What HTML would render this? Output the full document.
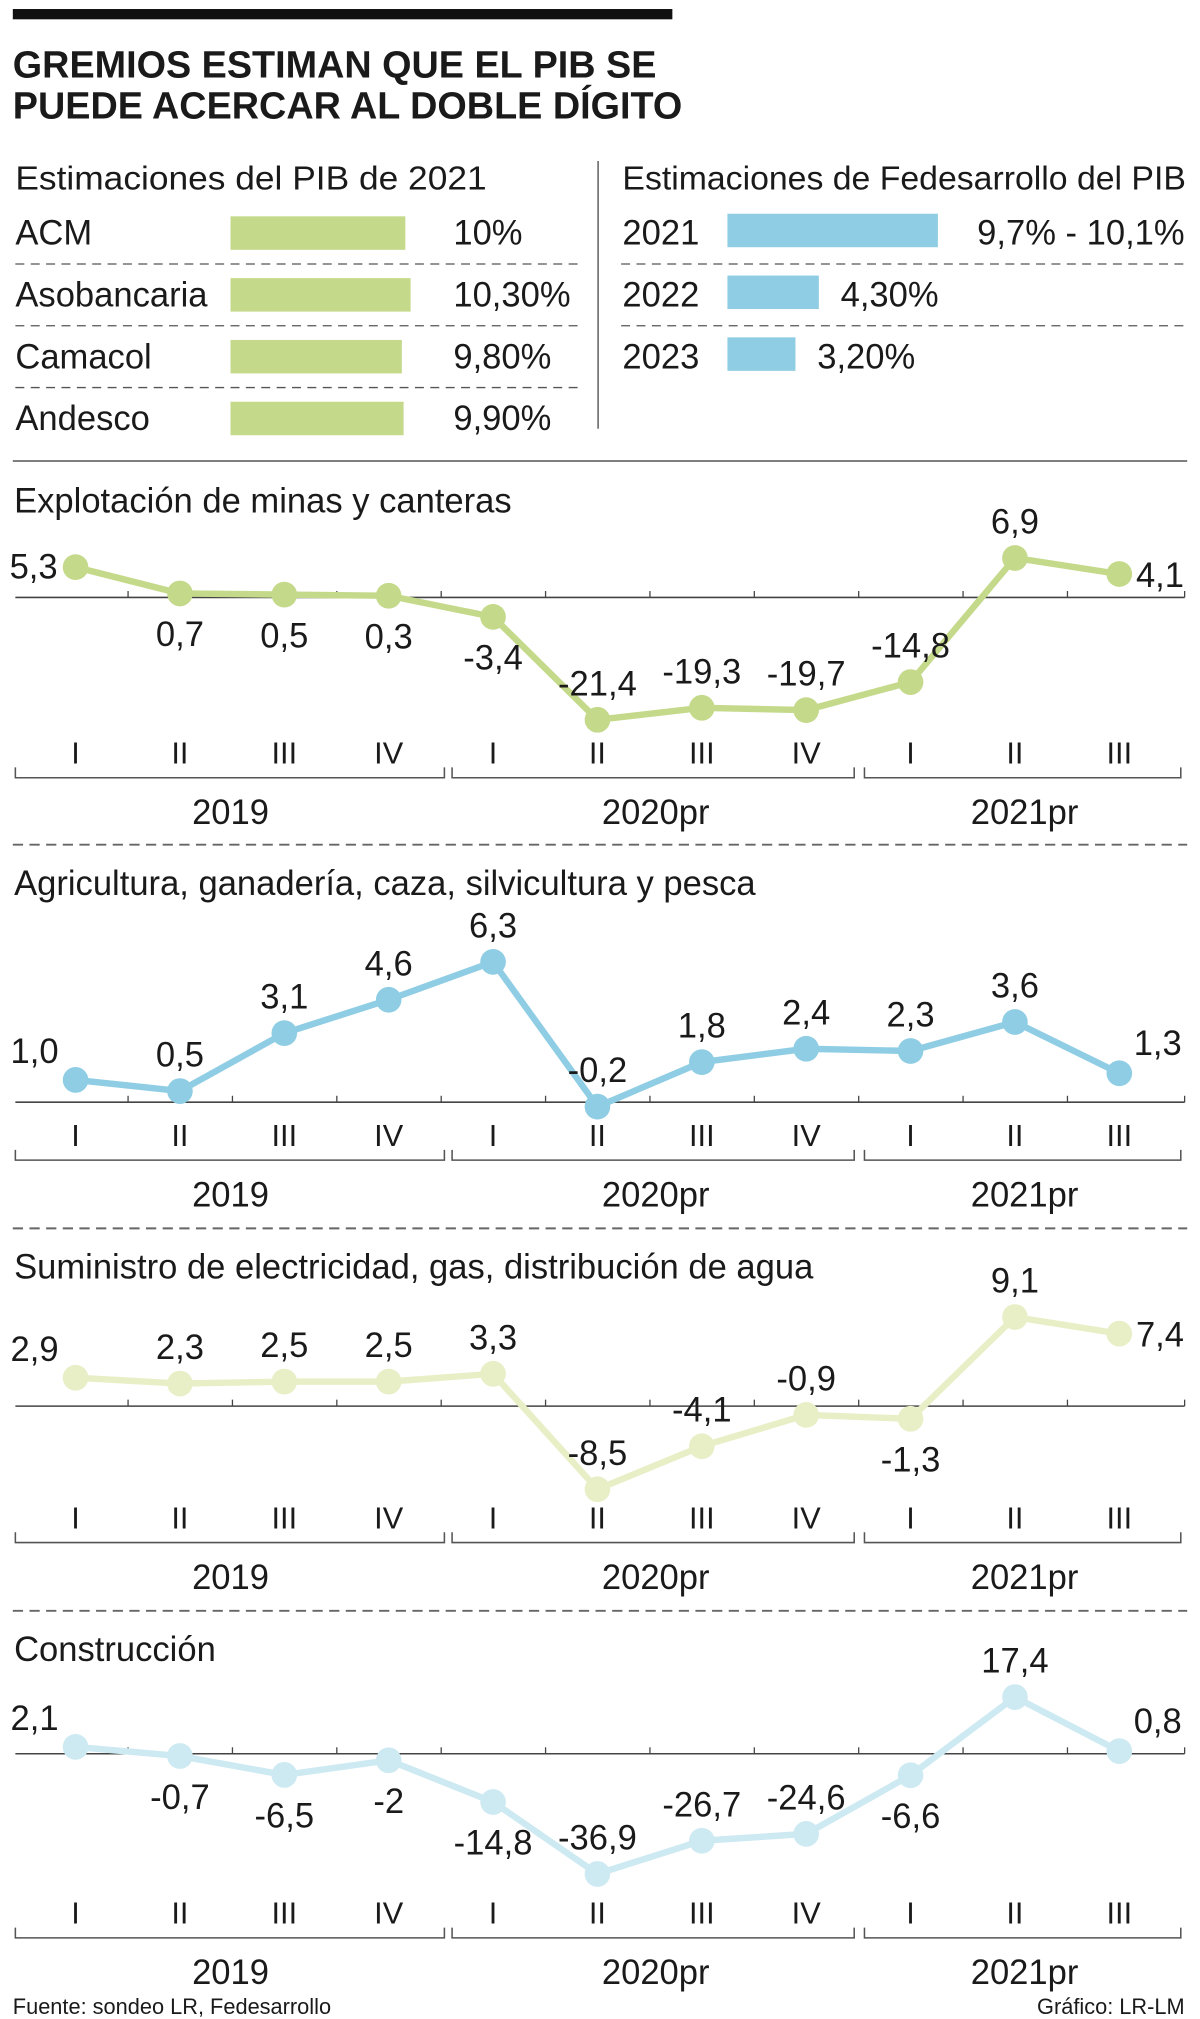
<!DOCTYPE html>
<html><head><meta charset="utf-8">
<style>
html,body{margin:0;padding:0;background:#fff}
svg{display:block}
text{font-family:"Liberation Sans Narrow","Liberation Sans",sans-serif;fill:#1a1a1a}
</style></head>
<body>
<svg id="g" width="1200" height="2019" viewBox="0 0 937 1568" preserveAspectRatio="none" xmlns="http://www.w3.org/2000/svg">
<rect x="10" y="7" width="515" height="8" fill="#111"/>
<text x="10" y="60" font-size="29.5" font-weight="bold">GREMIOS ESTIMAN QUE EL PIB SE</text>
<text x="10" y="92" font-size="29.5" font-weight="bold">PUEDE ACERCAR AL DOBLE DÍGITO</text>
<text x="12" y="147" font-size="26" textLength="368" lengthAdjust="spacingAndGlyphs">Estimaciones del PIB de 2021</text>
<text x="486" y="147" font-size="26" textLength="440" lengthAdjust="spacingAndGlyphs">Estimaciones de Fedesarrollo del PIB</text>
<line x1="467" y1="125" x2="467" y2="333" stroke="#444" stroke-width="1"/>
<line x1="10" y1="358" x2="927" y2="358" stroke="#555" stroke-width="1.2"/>
<g id="tables"></g>
<g id="charts"></g>
<text x="10" y="1564" font-size="17" fill="#333">Fuente: sondeo LR, Fedesarrollo</text>
<text x="925" y="1564" font-size="17" text-anchor="end">Gráfico: LR-LM</text>
</svg>
<script>
const NS="http://www.w3.org/2000/svg";
// ---- Table data
const leftNames=["ACM","Asobancaria","Camacol","Andesco"];
const leftValues=[10,10.3,9.8,9.9];
const leftLabels=["10%","10,30%","9,80%","9,90%"];
const rightYears=["2021","2022","2023"];
const rightValues=[9.9,4.3,3.2];
const rightLabels=["9,7% - 10,1%","4,30%","3,20%"];
// ---- Chart data
const quarters=["I","II","III","IV","I","II","III","IV","I","II","III"];
const yearLabels=["2019","2020pr","2021pr"];
const chartTitles=["Explotación de minas y canteras","Agricultura, ganadería, caza, silvicultura y pesca","Suministro de electricidad, gas, distribución de agua","Construcción"];
const miningValues=[5.3,0.7,0.5,0.3,-3.4,-21.4,-19.3,-19.7,-14.8,6.9,4.1];
const agriValues=[1.0,0.5,3.1,4.6,6.3,-0.2,1.8,2.4,2.3,3.6,1.3];
const electricValues=[2.9,2.3,2.5,2.5,3.3,-8.5,-4.1,-0.9,-1.3,9.1,7.4];
const constructionValues=[2.1,-0.7,-6.5,-2,-14.8,-36.9,-26.7,-24.6,-6.6,17.4,0.8];
const miningLabelPos=["L","B","B","B","B","A","A","A","A","A","R"];
const agriLabelPos=["AL","A","A","A","A","A","A","A","A","A","AR"];
const electricLabelPos=["AL","A","A","A","A","A","A","A","B","A","R"];
const constructionLabelPos=["AL","B","B","B","B","A","A","A","B","A","AR"];

function el(tag,attrs,parent,txt){const e=document.createElementNS(NS,tag);for(const k in attrs)e.setAttribute(k,attrs[k]);if(txt!==undefined)e.textContent=txt;parent.appendChild(e);return e;}

const T=document.getElementById("tables");
const lx=v=>v*13.65, rx=v=>v*16.6;
leftNames.forEach((n,i)=>{
  const y=190+i*48;
  let t=el("text",{x:12,y:y,"font-size":27},T,n);
  
  
  let r=el("rect",{x:180,y:y-22,width:lx(leftValues[i]),height:26,fill:"#c4d98a"},T);
  
  
  let v=el("text",{x:354,y:y,"font-size":27},T,leftLabels[i]);
  
  
  if(i<3){let d=el("line",{x1:12,x2:455,y1:y+15,y2:y+15,stroke:"#555","stroke-dasharray":"7 5"},T);
  
  }
});
rightYears.forEach((n,i)=>{
  const y=190+i*48;
  let t=el("text",{x:486,y:y,"font-size":27},T,n);
  
  
  const w=rx(rightValues[i]);
  let r=el("rect",{x:568,y:y-24,width:w,height:26,fill:"#8ecde4"},T);
  
  
  let v=el("text",{x:i==0?763:568+w+17,y:y,"font-size":27},T,rightLabels[i]);
  if(i==0){v.setAttribute("textLength","162");v.setAttribute("lengthAdjust","spacingAndGlyphs");}
  
  
  if(i<2){let d=el("line",{x1:485,x2:925,y1:y+15,y2:y+15,stroke:"#555","stroke-dasharray":"7 5"},T);
  
  }
});

const C=document.getElementById("charts");
const configs=[
 {vals:miningValues,pos:miningLabelPos,color:"#c4d98a",top:362,zero:464,scale:4.44,roman:593,dec:1},
 {vals:agriValues,pos:agriLabelPos,color:"#8ecde4",top:659,zero:856,scale:17.3,roman:890,dec:1},
 {vals:electricValues,pos:electricLabelPos,color:"#e8efc6",top:957,zero:1092,scale:7.6,roman:1187,dec:1},
 {vals:constructionValues,pos:constructionLabelPos,color:"#cde9f2",top:1254,zero:1362,scale:2.53,roman:1494,dec:0}
];
const xQ=i=>59+i*81.5;
configs.forEach((c,ci)=>{
  const g=el("g",{},C);
  
  
  const yV=v=>c.zero-v*c.scale;
  const fmt=v=>(c.dec?v.toFixed(1):String(v)).replace(".",",");
  if(ci>0){let d=el("line",{x1:10,x2:927,y1:c.top-3,y2:c.top-3,stroke:"#666","stroke-width":1.5,"stroke-dasharray":"8 5"},g);
  
  }
  let tt=el("text",{x:11,y:c.top+36,"font-size":27},g,chartTitles[ci]);
  
  
  let ax=el("line",{x1:12,x2:925,y1:c.zero,y2:c.zero,stroke:"#444","stroke-width":1.2},g);
  
  
  for(let i=0;i<quarters.length-1;i++){
    let tk=el("line",{x1:xQ(i)+41,x2:xQ(i)+41,y1:c.zero,y2:c.zero-5,stroke:"#444"},g);
    
    
  }
  let tk2=el("line",{x1:925,x2:925,y1:c.zero,y2:c.zero-5,stroke:"#444"},g);
  
  
  const base=c.roman;
  quarters.forEach((q,i)=>{
    let t=el("text",{x:xQ(i),y:base,"font-size":24,"text-anchor":"middle"},g,q);
    
    
  });
  const brackets=[[12,347],[353,667],[675,922]];
  brackets.forEach((b,bi)=>{
    let p=el("path",{d:`M${b[0]} ${base+3}V${base+11}H${b[1]}V${base+3}`,fill:"none",stroke:"#555","stroke-width":1.2},g);
    
    
    let y=el("text",{x:bi==0?180:bi==1?512:800,y:base+47,"font-size":27,"text-anchor":"middle"},g,yearLabels[bi]);
    
    
  });
  const pts=c.vals.map((v,i)=>[xQ(i),yV(v)]);
  let line=el("polyline",{points:pts.map(p=>p.join(",")).join(" "),fill:"none",stroke:c.color,"stroke-width":5,"stroke-linejoin":"round"},g);
  
  
  pts.forEach((p,i)=>{
    let d=el("circle",{cx:p[0],cy:p[1],r:10,fill:c.color},g);
    
    
    let x=p[0],y,anc="middle";const pos=c.pos[i];
    if(pos=="A"){y=p[1]-19;}
    else if(pos=="B"){y=p[1]+41;}
    else if(pos=="L"){x=p[0]-14;y=p[1]+9;anc="end";}
    else if(pos=="R"){x=p[0]+13;y=p[1]+10;anc="start";}
    else if(pos=="AL"){x=p[0]-32;y=p[1]-13;}
    else {x=p[0]+30;y=p[1]-14;}
    let lb=el("text",{x:x,y:y,"font-size":27,"text-anchor":anc},g,fmt(c.vals[i]));
    
    
  });
});
</script>
</body></html>
